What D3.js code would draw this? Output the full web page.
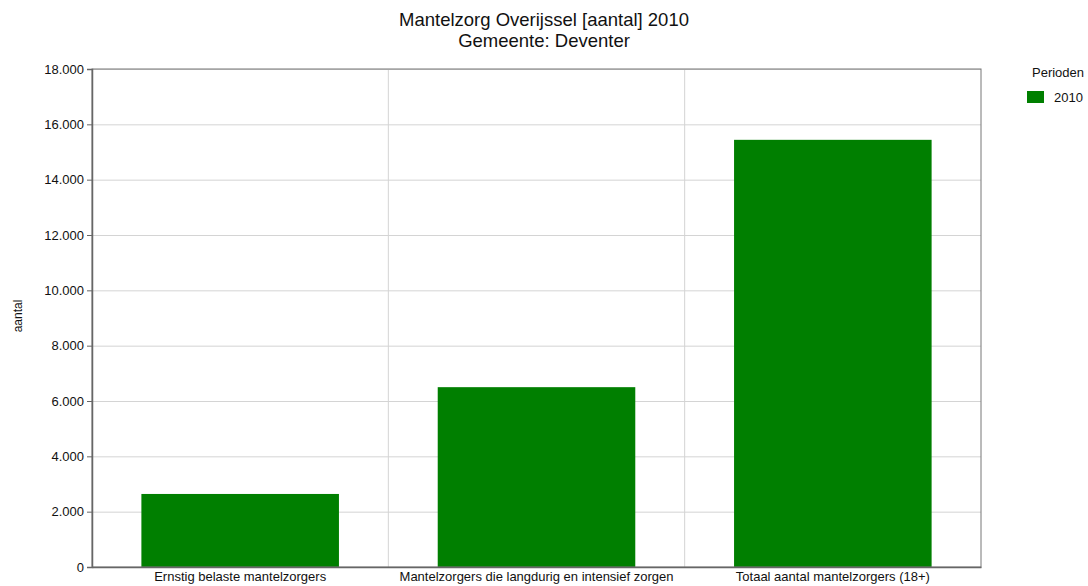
<!DOCTYPE html>
<html lang="en">
<head>
    <meta charset="utf-8">
    <script src="https://d3js.org/d3.v7.min.js"></script>
    <style>
        body { margin: 0px; background: #fff; }
        text { font-family: "Liberation Sans", Arial, sans-serif; fill: #111; }
    </style>
</head>
<body>
<svg id="chart"></svg>
<script>
// Data
var categories = ["Ernstig belaste mantelzorgers", "Mantelzorgers die langdurig en intensief zorgen", "Totaal aantal mantelzorgers (18+)"];
var values2010 = [2640, 6500, 15440];
var yTicks = [0, 2000, 4000, 6000, 8000, 10000, 12000, 14000, 16000, 18000];
var seriesNames = ["2010"];

var width = 1088, height = 586;
var m = {top: 69, right: 107, bottom: 19, left: 92};
var iw = width - m.left - m.right;
var ih = height - m.top - m.bottom;
var green = "#007f00";

var svg = d3.select("#chart").attr("width", width).attr("height", height);

var x = d3.scaleBand().domain(categories).range([0, iw]).paddingInner(1 / 3).paddingOuter(1 / 6);
var y = d3.scaleLinear().domain([0, 18000]).range([ih, 0]);

var fmt = function (d) { return d3.format(",")(d).replace(/,/g, "."); };

var g = svg.append("g").attr("transform", "translate(" + m.left + "," + m.top + ")");

// horizontal gridlines
g.selectAll(".hgrid").data(yTicks).enter().append("line")
    .attr("x1", 0).attr("x2", iw)
    .attr("y1", function (d) { return y(d) + 0.5; })
    .attr("y2", function (d) { return y(d) + 0.5; })
    .attr("stroke", "#d4d4d4");

// vertical separators between categories
g.selectAll(".vgrid").data(categories.slice(1)).enter().append("line")
    .attr("x1", function (d) { return x(d) - x.step() * x.paddingInner() / 2; })
    .attr("x2", function (d) { return x(d) - x.step() * x.paddingInner() / 2; })
    .attr("y1", 0).attr("y2", ih)
    .attr("stroke", "#d4d4d4");

// bars
g.selectAll(".bar").data(values2010).enter().append("rect")
    .attr("x", function (d, i) { return x(categories[i]); })
    .attr("width", x.bandwidth())
    .attr("y", function (d) { return y(d); })
    .attr("height", function (d) { return ih - y(d); })
    .attr("fill", green);

// frame
g.append("rect").attr("x", 0).attr("y", 0).attr("width", iw).attr("height", ih)
    .attr("fill", "none").attr("stroke", "#777");

// y axis
var yAxis = g.append("g")
    .call(d3.axisLeft(y).tickValues(yTicks).tickFormat(fmt).tickSize(5).tickPadding(3));
yAxis.select(".domain").attr("stroke", "#666").attr("stroke-width", 1.5);
yAxis.selectAll(".tick line").attr("stroke", "#666");
yAxis.selectAll("text").style("font-size", "13px").attr("fill", "#111")
    .style("font-family", "'Liberation Sans', Arial, sans-serif");

// x axis
var xAxis = g.append("g").attr("transform", "translate(0," + ih + ")")
    .call(d3.axisBottom(x).tickSize(0).tickPadding(5));
xAxis.select(".domain").attr("stroke", "#666").attr("stroke-width", 1.5);
xAxis.selectAll("text").style("font-size", "13px").attr("fill", "#111")
    .style("font-family", "'Liberation Sans', Arial, sans-serif");

// title
svg.append("text").attr("x", 544).attr("y", 26).attr("text-anchor", "middle")
    .style("font-size", "18.5px").text("Mantelzorg Overijssel [aantal] 2010");
svg.append("text").attr("x", 544).attr("y", 47).attr("text-anchor", "middle")
    .style("font-size", "18.5px").text("Gemeente: Deventer");

// y label
svg.append("text").attr("transform", "translate(22,316) rotate(-90)")
    .attr("text-anchor", "middle").style("font-size", "12px").text("aantal");

// legend
var lg = svg.append("g").attr("transform", "translate(1027,0)");
lg.append("text").attr("x", 5).attr("y", 77).style("font-size", "13px").text("Perioden");
var items = lg.selectAll(".item").data(seriesNames).enter().append("g")
    .attr("transform", function (d, i) { return "translate(0," + (91 + i * 20) + ")"; });
items.append("rect").attr("width", 17).attr("height", 12).attr("fill", green);
items.append("text").attr("x", 27).attr("y", 11).style("font-size", "13px").text(function (d) { return d; });
</script>
</body>
</html>
